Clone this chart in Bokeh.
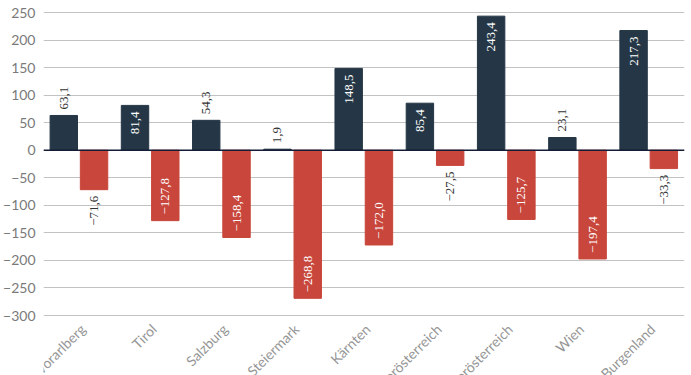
import math
from bokeh.plotting import figure
from bokeh.models import ColumnDataSource, FactorRange, Range1d, FixedTicker, Span, LabelSet
from bokeh.transform import dodge
from bokeh.core.properties import value
from bokeh.embed import file_html
from bokeh.resources import INLINE

categories = ["Vorarlberg", "Tirol", "Salzburg", "Steiermark", "Kärnten",
              "Oberösterreich", "Niederösterreich", "Wien", "Burgenland"]
series_pos = [63.1, 81.4, 54.3, 1.9, 148.5, 85.4, 243.4, 23.1, 217.3]
series_neg = [-71.6, -127.8, -158.4, -268.8, -172.0, -27.5, -125.7, -197.4, -33.3]
y_ticks = [-300, -250, -200, -150, -100, -50, 0, 50, 100, 150, 200, 250]

DARK = "#253746"
RED = "#c8463b"

Y_MIN, Y_MAX = -408.9, 271.8
PAD = 11          # label padding, data units (~6 px)
INSIDE = 75       # bars taller than this get the label inside


def fmt(v):
    s = f"{abs(v):.1f}".replace(".", ",")
    return ("\u2212" + s) if v < 0 else s


def label_cols(vals):
    ys, aligns, colors, texts = [], [], [], []
    for v in vals:
        sgn = 1 if v >= 0 else -1
        inside = abs(v) > INSIDE
        if inside:
            ys.append(v - sgn * PAD)
            aligns.append("right" if v >= 0 else "left")
            colors.append("white")
        else:
            ys.append(v + sgn * PAD)
            aligns.append("left" if v >= 0 else "right")
            colors.append("#333333")
        texts.append(fmt(v))
    return ys, aligns, colors, texts


p = figure(width=691, height=375, x_range=FactorRange(*categories, range_padding=0),
           y_range=Range1d(Y_MIN, Y_MAX), output_backend="svg", toolbar_location=None,
           min_border_left=40, min_border_right=7, min_border_top=0, min_border_bottom=0)
p.x_range.factor_padding = 0

src = ColumnDataSource(dict(cat=categories, pos=series_pos, neg=series_neg))
py, pa, pc, pt = label_cols(series_pos)
ny, na, nc, nt = label_cols(series_neg)
src.data.update(dict(py=py, pa=pa, pc=pc, pt=pt, ny=ny, na=na, nc=nc, nt=nt))

p.vbar(x=dodge("cat", -0.215, range=p.x_range), top="pos", bottom=0, width=0.385,
       color=DARK, source=src)
p.vbar(x=dodge("cat", 0.21, range=p.x_range), top="neg", bottom=0, width=0.385,
       color=RED, source=src)

p.add_layout(LabelSet(x=dodge("cat", -0.215, range=p.x_range), y="py", text="pt",
                      angle=math.pi / 2, text_align="pa", text_baseline="middle",
                      text_color="pc", text_font="Liberation Sans", text_font_size="13px",
                      source=src))
p.add_layout(LabelSet(x=dodge("cat", 0.21, range=p.x_range), y="ny", text="nt",
                      angle=math.pi / 2, text_align="na", text_baseline="middle",
                      text_color="nc", text_font="Liberation Sans", text_font_size="13px",
                      source=src))

# category labels, rotated 45 degrees
p.add_layout(LabelSet(x=dodge("cat", 0.05, range=p.x_range), y=-320, text="cat",
                      angle=math.pi / 4, text_align="right", text_baseline="middle",
                      text_color="#959595", text_font=value("Lato"), text_font_size="14px",
                      source=src))

p.add_layout(Span(location=0, dimension="width", line_color="#141c36", line_width=1.5))

p.xaxis.visible = False
p.xgrid.grid_line_color = None
p.ygrid.ticker = FixedTicker(ticks=y_ticks)
p.ygrid.grid_line_color = "#c2c2c2"
p.ygrid.grid_line_width = 1

ya = p.yaxis[0]
ya.ticker = FixedTicker(ticks=y_ticks)
ya.axis_line_color = None
ya.major_tick_line_color = None
ya.minor_tick_line_color = None
ya.major_tick_out = 0
ya.major_tick_in = 0
ya.major_label_standoff = 8
ya.major_label_text_font = "Lato"
ya.major_label_text_font_size = "14px"
ya.major_label_text_color = "#7a7a7a"

p.outline_line_color = None
p.background_fill_color = "white"
p.border_fill_color = "white"

open("out.html", "w").write(file_html(p, INLINE))
